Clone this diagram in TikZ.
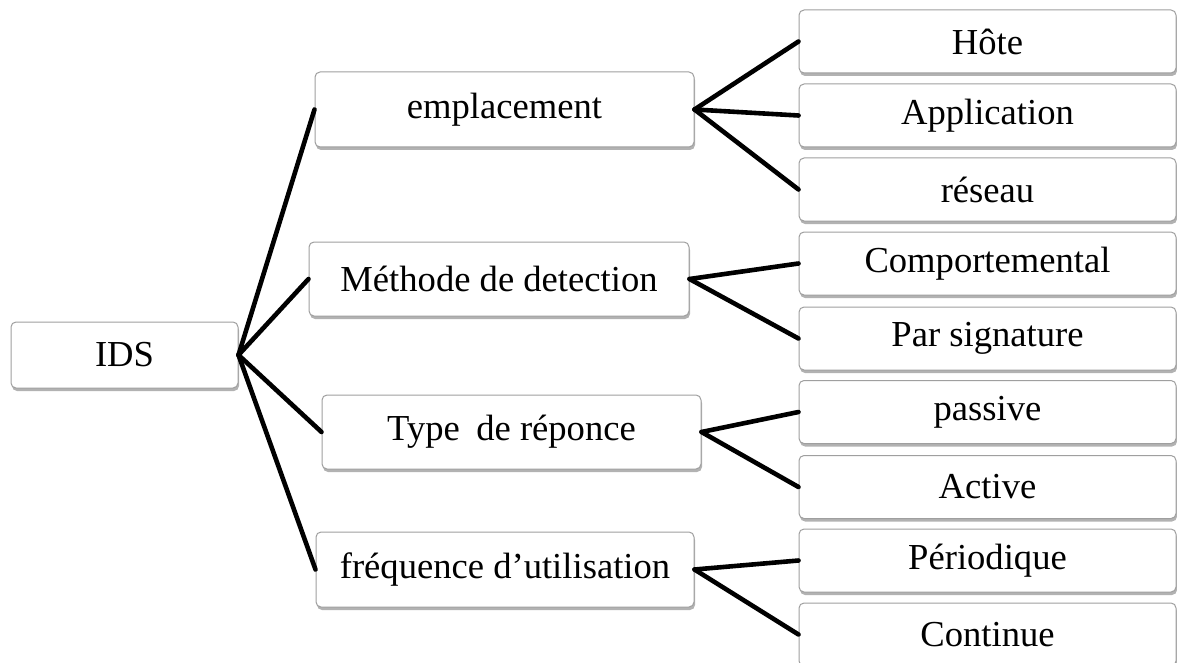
\documentclass[tikz,border=0pt]{standalone}
\usepackage{fontspec}
\setmainfont{Liberation Serif}
\usetikzlibrary{shadows}
\begin{document}
\begin{tikzpicture}[x=1pt,y=-1pt,
  box/.style={draw=gray!75, line width=1pt, rounded corners=5pt, fill=white,
    drop shadow={shadow xshift=1pt, shadow yshift=-3pt, fill=black, opacity=0.3},
    inner sep=0pt, font=\fontsize{36.6}{44}\selectfont},
  leaf/.style={box, minimum width=377pt, minimum height=63pt},
  link/.style={line width=4.6pt, line cap=round, line join=round}]
\useasboundingbox (0,0) rectangle (1177,663);

% root
\node[box, minimum width=227pt, minimum height=66pt] (ids) at (124.5,355) {IDS};

% criteria
\node[box, minimum width=379pt, minimum height=75pt] (empl) at (504.5,109.5) {emplacement};
\node[box, minimum width=380pt, minimum height=74pt] (meth) at (499,279) {Méthode de detection};
\node[box, minimum width=379pt, minimum height=74pt] (type) at (511.5,432) {Type\hspace{0.2em} de réponce};
\node[box, minimum width=378pt, minimum height=75pt] (freq) at (505,569.5) {fréquence d’utilisation};

% values
\node[leaf] (hote) at (987.5,41.5) {Hôte};
\node[leaf] (appl) at (987.5,115.5) {Application};
\node[leaf] (resx) at (987.5,189.5) {réseau};
\node[leaf] (comp) at (987.5,263.5) {Comportemental};
\node[leaf] (sign) at (987.5,338.5) {Par signature};
\node[leaf] (pass) at (987.5,412) {passive};
\node[leaf] (acti) at (987.5,487) {Active};
\node[leaf] (peri) at (987.5,560.5) {Périodique};
\node[leaf] (cont) at (987.5,634.5) {Continue};

% connectors
\foreach \c in {empl,meth,type,freq}
  \draw[link] (ids.east) -- (\c.west);
\foreach \c in {hote,appl,resx}
  \draw[link] (empl.east) -- (\c.west);
\foreach \c in {comp,sign}
  \draw[link] (meth.east) -- (\c.west);
\foreach \c in {pass,acti}
  \draw[link] (type.east) -- (\c.west);
\foreach \c in {peri,cont}
  \draw[link] (freq.east) -- (\c.west);
\end{tikzpicture}
\end{document}
